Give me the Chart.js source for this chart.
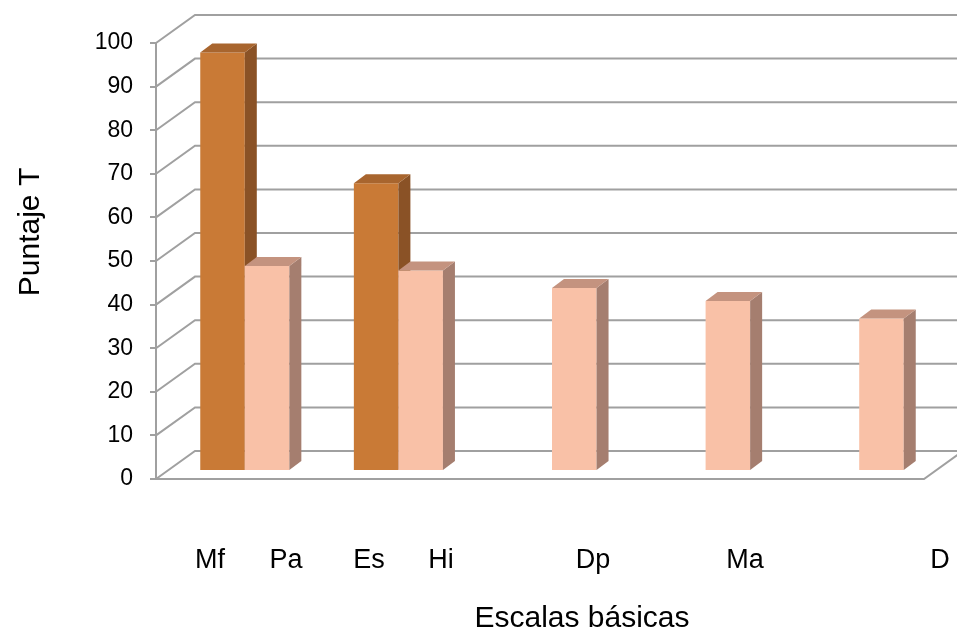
<!DOCTYPE html>
<html lang="es">
<head>
<meta charset="utf-8">
<title>Puntaje T por escala</title>
<script src="https://cdn.jsdelivr.net/npm/chart.js@4/dist/chart.umd.min.js"></script>
<style>
  html, body { margin: 0; padding: 0; background: #ffffff; }
  #wrap { width: 957px; height: 631px; }
</style>
</head>
<body>
<div id="wrap"><canvas id="grafico" width="957" height="631"></canvas></div>
<script>
// Grupos del eje X (cada grupo lleva hasta dos barras)
const grupos = ['Mf-Pa', 'Es-Hi', 'Dp', 'Ma', 'D'];
// Nombres de las escalas que se rotulan bajo el eje
const escalas = ['Mf', 'Pa', 'Es', 'Hi', 'Dp', 'Ma', 'D'];
// Puntaje T, serie oscura (Mf, Es)
const serieOscura = [96, 66, null, null, null];
// Puntaje T, serie clara (Pa, Hi, Dp, Ma, D)
const serieClara = [47, 46, 42, 39, 35];
// Marcas del eje Y
const marcasY = [0, 10, 20, 30, 40, 50, 60, 70, 80, 90, 100];

// ---- aspecto y disposición ----
const GRIS = '#a0a0a0';
const FUENTE = '"Liberation Sans", Arial, sans-serif';
const PARED = { dx: 39, dy: -28 };      // profundidad de la pared del fondo
const PROF_BARRA = { dx: 12, dy: -9 };  // profundidad de cada barra
const DESPL_BARRA = { dx: 12, dy: -8 }; // plano donde se apoyan las barras
const X_ROTULOS = [210, 286, 369, 441, 593, 745, 940];
const Y_ROTULOS = 568;

const colores = [
  { frente: '#c97a36', lado: '#8a5226', tapa: '#a8652e' },
  { frente: '#f9c1a7', lado: '#a57e6f', tapa: '#c4937f' }
];

// Caras lateral y superior de una barra
function carasBarra(ctx, bar, c) {
  const { x, y, width, base } = bar.getProps(['x', 'y', 'width', 'base'], true);
  const l = x - width / 2, r = x + width / 2;
  const dx = PROF_BARRA.dx, dy = PROF_BARRA.dy;
  ctx.fillStyle = c.lado;
  ctx.beginPath();
  ctx.moveTo(r, y);
  ctx.lineTo(r + dx, y + dy);
  ctx.lineTo(r + dx, base + dy);
  ctx.lineTo(r, base);
  ctx.closePath();
  ctx.fill();
  ctx.fillStyle = c.tapa;
  ctx.beginPath();
  ctx.moveTo(l, y);
  ctx.lineTo(l + dx, y + dy);
  ctx.lineTo(r + dx, y + dy);
  ctx.lineTo(r, y);
  ctx.closePath();
  ctx.fill();
}

const marcoTresD = {
  id: 'marcoTresD',
  beforeDatasetsDraw(chart) {
    const { ctx, chartArea: a, scales: { y } } = chart;
    ctx.save();
    ctx.strokeStyle = GRIS;
    ctx.lineWidth = 2;
    // rejilla en la pared lateral y la del fondo
    marcasY.forEach(v => {
      const py = y.getPixelForValue(v);
      ctx.beginPath();
      ctx.moveTo(a.left, py);
      ctx.lineTo(a.left + PARED.dx, py + PARED.dy);
      ctx.lineTo(a.right + PARED.dx, py + PARED.dy);
      ctx.stroke();
    });
    // suelo
    const py0 = y.getPixelForValue(0);
    ctx.beginPath();
    ctx.moveTo(a.left, py0);
    ctx.lineTo(a.right, py0);
    ctx.lineTo(a.right + PARED.dx, py0 + PARED.dy);
    ctx.stroke();
    ctx.restore();
    // las barras se dibujan abajo, en orden de izquierda a derecha
    return false;
  },
  afterDraw(chart) {
    const { ctx } = chart;
    ctx.save();
    ctx.translate(DESPL_BARRA.dx, DESPL_BARRA.dy);
    grupos.forEach((g, i) => {
      chart.data.datasets.forEach((ds, d) => {
        const val = ds.data[i];
        if (val === null || val === undefined) return;
        const bar = chart.getDatasetMeta(d).data[i];
        bar.draw(ctx);
        carasBarra(ctx, bar, colores[d]);
      });
    });
    ctx.restore();

    ctx.save();
    ctx.fillStyle = '#000';
    // rótulos de las escalas
    ctx.font = '27px ' + FUENTE;
    ctx.textAlign = 'center';
    ctx.textBaseline = 'alphabetic';
    escalas.forEach((t, i) => ctx.fillText(t, X_ROTULOS[i], Y_ROTULOS));
    // título del eje X
    ctx.font = '30px ' + FUENTE;
    ctx.fillText('Escalas básicas', 582, 627);
    // título del eje Y
    ctx.translate(31, 232);
    ctx.rotate(-Math.PI / 2);
    ctx.textBaseline = 'middle';
    ctx.fillText('Puntaje T', 0, 0);
    ctx.restore();
  }
};

new Chart(document.getElementById('grafico'), {
  type: 'bar',
  data: {
    labels: grupos,
    datasets: [
      {
        label: 'Serie oscura',
        data: serieOscura,
        backgroundColor: colores[0].frente,
        categoryPercentage: 0.58,
        barPercentage: 1
      },
      {
        label: 'Serie clara',
        data: serieClara,
        backgroundColor: colores[1].frente,
        categoryPercentage: 0.58,
        barPercentage: 1
      }
    ]
  },
  options: {
    responsive: false,
    animation: false,
    devicePixelRatio: 1,
    layout: { padding: { left: 0, top: 43, right: 33, bottom: 152 } },
    plugins: { legend: { display: false }, tooltip: { enabled: false } },
    scales: {
      x: {
        display: true,
        ticks: { display: false },
        grid: { display: false },
        border: { display: false },
        afterFit(s) { s.height = 0; }
      },
      y: {
        min: 0,
        max: 100,
        ticks: {
          stepSize: 10,
          padding: 17,
          color: '#000',
          font: { family: FUENTE, size: 23 }
        },
        grid: {
          drawOnChartArea: false,
          drawTicks: true,
          tickLength: 6,
          color: GRIS,
          lineWidth: 2
        },
        border: { display: true, color: GRIS, width: 2 },
        afterFit(s) { s.width = 156; }
      }
    }
  },
  plugins: [marcoTresD]
});
</script>
</body>
</html>
